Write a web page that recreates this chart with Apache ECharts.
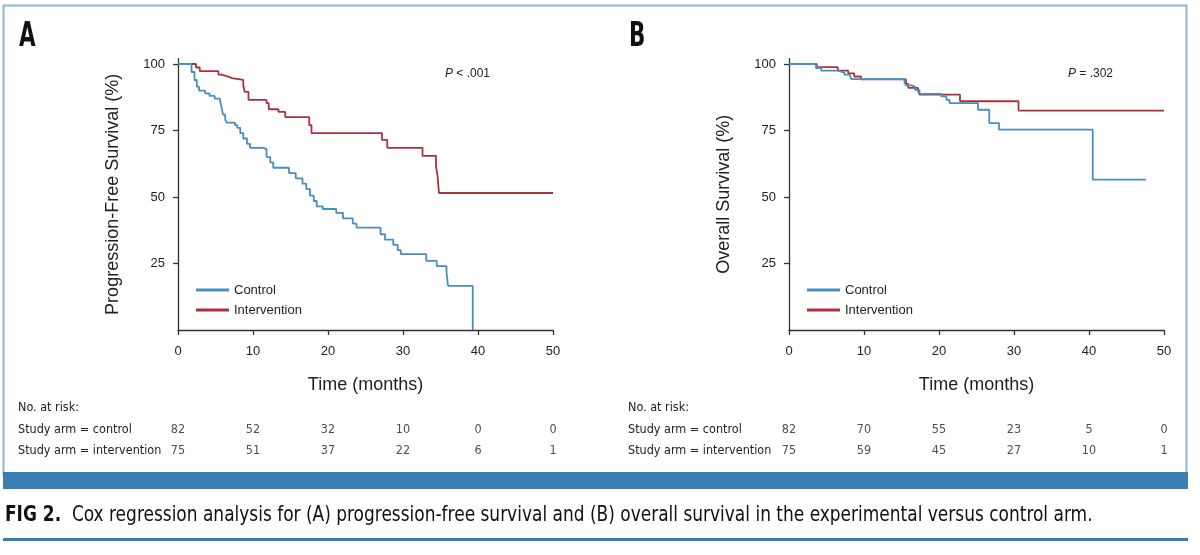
<!DOCTYPE html>
<html>
<head>
<meta charset="utf-8">
<script src="https://cdn.jsdelivr.net/npm/echarts@6/dist/echarts.min.js"></script>
<style>
html,body{margin:0;padding:0;background:#fff;}
#main{width:1200px;height:555px;}
</style>
</head>
<body>
<div id="main"></div>
<script>
// ---- data ----
const timeTicks = [0, 10, 20, 30, 40, 50];
const yTicks = [25, 50, 75, 100];
const seriesNames = ['Control', 'Intervention'];

// Panel A: progression-free survival (months, %)
const pfsControl = [
  [0,100],[1.8,97],[2.2,94],[2.5,91.5],[2.8,90],[3.6,89],[4.2,88],[4.9,87],[5.6,86],
  [5.8,84],[6.0,81],[6.3,79],[6.5,78],[7.6,77],[7.9,76],[8.3,74],[8.7,72],[9.2,70],
  [9.6,68.5],[11.4,68],[11.8,65],[12.3,63],[12.7,61],[14.8,59],[15.7,57],[16.6,55],
  [17.1,53],[17.6,50.5],[18.1,48.5],[18.5,46.5],[19.3,45.5],[21.1,44],[22.0,42],
  [23.3,40],[23.8,38.5],[27.0,36],[27.6,34],[28.7,32],[29.3,30],[29.7,28.5],[33.1,26],
  [34.5,24],[35.8,22],[36.0,16.6],[39.3,0]
];
const pfsIntervention = [
  [0,100],[2.4,98.7],[2.9,97.3],[5.4,96],[5.8,95.3],[6.7,94.7],[7.2,94],[8.7,92],[8.9,89.5],
  [9.4,86.5],[11.8,85.3],[12.1,83],[13.4,82],[14.3,80],[17.5,77],[17.8,74],[27.2,71.5],
  [27.9,68.5],[32.6,65.5],[34.4,61.5],[34.6,58],[34.8,51.5],[50,51.5]
];

// Panel B: overall survival (months, %)
const osControl = [
  [0,100],[3.6,98.5],[4.3,97.5],[6.5,96.8],[7.4,96],[8.1,95.3],[8.3,94.3],[15.4,93],
  [15.6,92],[16.3,91.5],[16.8,90.3],[17.4,88.8],[20.3,87.8],[21.0,86.5],[21.4,85.3],
  [25.2,82.8],[26.7,77.8],[28.0,75.3],[40.5,56.5],[47.6,56.5]
];
const osIntervention = [
  [0,100],[3.7,98.8],[6.5,97.5],[7.9,96.5],[8.7,95.3],[9.6,94.2],[15.6,92.5],[15.9,91],
  [17.2,90.2],[17.4,88.5],[22.8,86],[30.6,82.5],[50,82.5]
];

// Numbers at risk
const riskPfsControl = [82, 52, 32, 10, 0, 0];
const riskPfsIntervention = [75, 51, 37, 22, 6, 1];
const riskOsControl = [82, 70, 55, 23, 5, 0];
const riskOsIntervention = [75, 59, 45, 27, 10, 1];

const riskRowLabels = ['No. at risk:', 'Study arm = control', 'Study arm = intervention'];
const pValues = ['{i|P} < .001', '{i|P} = .302'];
const panelLetters = ['A', 'B'];
const yNames = ['Progression-Free Survival (%)', 'Overall Survival (%)'];
const xName = 'Time (months)';
const figLabel = 'FIG 2.';
const caption = 'Cox regression analysis for (A) progression-free survival and (B) overall survival in the experimental versus control arm.';

// ---- styling ----
const BLUE = '#4690bd';
const RED = '#a9323f';
const TXT = '#222';
const FONT = '"Liberation Sans", Arial, sans-serif';
const NARROW = '"DejaVu Sans Condensed", "Liberation Sans", sans-serif';

const plotLefts = [178, 789];
const plotWidth = 375;
const plotTop = 58.7;
const plotHeight = 271.3;

const grids = [], xAxes = [], yAxes = [], series = [], legends = [];
const curves = [[pfsControl, pfsIntervention], [osControl, osIntervention]];
const risks = [[riskPfsControl, riskPfsIntervention], [riskOsControl, riskOsIntervention]];

for (let p = 0; p < 2; p++) {
  grids.push({ left: plotLefts[p], top: plotTop, width: plotWidth, height: plotHeight, containLabel: false });
  const gi = grids.length - 1;
  xAxes.push({
    gridIndex: gi, type: 'value', min: 0, max: 50, interval: 10,
    name: xName, nameLocation: 'middle', nameGap: 46,
    nameTextStyle: { fontFamily: FONT, fontSize: 18, color: TXT },
    axisLine: { show: true, onZero: false, lineStyle: { color: '#333', width: 1.3 } },
    axisTick: { show: true, length: 5, lineStyle: { color: '#333', width: 1.3 } },
    axisLabel: { fontFamily: FONT, fontSize: 13, color: TXT, margin: 15 },
    splitLine: { show: false }
  });
  yAxes.push({
    gridIndex: gi, type: 'value', min: 0, max: 102,
    name: yNames[p], nameLocation: 'middle', nameGap: 56,
    nameTextStyle: { fontFamily: FONT, fontSize: 18, color: TXT },
    axisLine: { show: true, lineStyle: { color: '#333', width: 1.3 } },
    axisTick: { show: true, length: 5, customValues: yTicks, lineStyle: { color: '#333', width: 1.3 } },
    axisLabel: { fontFamily: FONT, fontSize: 13, color: TXT, margin: 13, customValues: yTicks },
    splitLine: { show: false }
  });
  for (let s = 0; s < 2; s++) {
    series.push({
      name: seriesNames[s], type: 'line', step: 'end',
      xAxisIndex: gi, yAxisIndex: gi,
      data: curves[p][s], symbol: 'none', silent: true,
      lineStyle: { color: s === 0 ? BLUE : RED, width: 1.8 },
      itemStyle: { color: s === 0 ? BLUE : RED },
      z: s === 0 ? 3 : 2
    });
  }
  legends.push({
    data: seriesNames, orient: 'vertical',
    left: plotLefts[p] + 13, top: 278,
    icon: 'rect', itemWidth: 33, itemHeight: 3, itemGap: 6,
    textStyle: { fontFamily: FONT, fontSize: 13, color: TXT, lineHeight: 14 },
    selectedMode: false
  });
}

// risk table grids
for (let p = 0; p < 2; p++) {
  grids.push({ left: plotLefts[p], top: 430, width: plotWidth, height: 21 });
  const gi = grids.length - 1;
  xAxes.push({ gridIndex: gi, type: 'value', min: 0, max: 50, show: false });
  yAxes.push({ gridIndex: gi, type: 'value', min: 0, max: 1, show: false });
  for (let r = 0; r < 2; r++) {
    series.push({
      type: 'scatter', xAxisIndex: gi, yAxisIndex: gi, silent: true,
      symbolSize: 1, itemStyle: { color: 'rgba(0,0,0,0)' },
      data: risks[p][r].map((v, i) => [timeTicks[i], r === 0 ? 1 : 0, v]),
      label: { show: true, position: 'inside', formatter: d => String(d.value[2]),
        fontFamily: NARROW, fontSize: 12.5, color: TXT }
    });
  }
}

const graphic = [
  { type: 'rect', shape: { x: 3.5, y: 5.5, width: 1183, height: 470 }, style: { fill: 'none', stroke: '#8db7d3', lineWidth: 2 }, silent: true },
  { type: 'rect', shape: { x: 3, y: 472, width: 1185, height: 17 }, style: { fill: '#3a7db0' }, silent: true },
  { type: 'rect', shape: { x: 3, y: 538, width: 1185, height: 3 }, style: { fill: '#3a7db0' }, silent: true },
  { type: 'text', x: 19, y: 20, scaleX: 0.7, style: { text: panelLetters[0], font: 'bold 34px ' + NARROW, fill: '#111', verticalAlign: 'top' } },
  { type: 'text', x: 629, y: 20, scaleX: 0.7, style: { text: panelLetters[1], font: 'bold 34px ' + NARROW, fill: '#111', verticalAlign: 'top' } },
  { type: 'text', x: 445, y: 74, style: { text: pValues[0], rich: { i: { fontStyle: 'italic', fontFamily: FONT, fontSize: 12, fill: TXT } }, fontFamily: FONT, fontSize: 12, fill: TXT, verticalAlign: 'middle' } },
  { type: 'text', x: 1068, y: 74, style: { text: pValues[1], rich: { i: { fontStyle: 'italic', fontFamily: FONT, fontSize: 12, fill: TXT } }, fontFamily: FONT, fontSize: 12, fill: TXT, verticalAlign: 'middle' } },
  { type: 'text', x: 5, y: 516, scaleX: 0.9, style: { text: '{b|' + figLabel + '}  ' + caption, rich: { b: { fontWeight: 'bold', fontFamily: NARROW, fontSize: 21, fill: '#111' } }, fontFamily: NARROW, fontSize: 21, fill: '#111', verticalAlign: 'middle' } }
];
const rowYs = [408, 430, 451];
const riskLefts = [18, 628];
for (let p = 0; p < 2; p++) {
  for (let r = 0; r < 3; r++) {
    graphic.push({ type: 'text', x: riskLefts[p], y: rowYs[r], style: { text: riskRowLabels[r], fontFamily: NARROW, fontSize: 12.5, fill: TXT, verticalAlign: 'middle' } });
  }
}

const chart = echarts.init(document.getElementById('main'));
chart.setOption({
  animation: false,
  backgroundColor: '#fff',
  grid: grids, xAxis: xAxes, yAxis: yAxes, series: series, legend: legends, graphic: graphic
});
</script>
</body>
</html>
